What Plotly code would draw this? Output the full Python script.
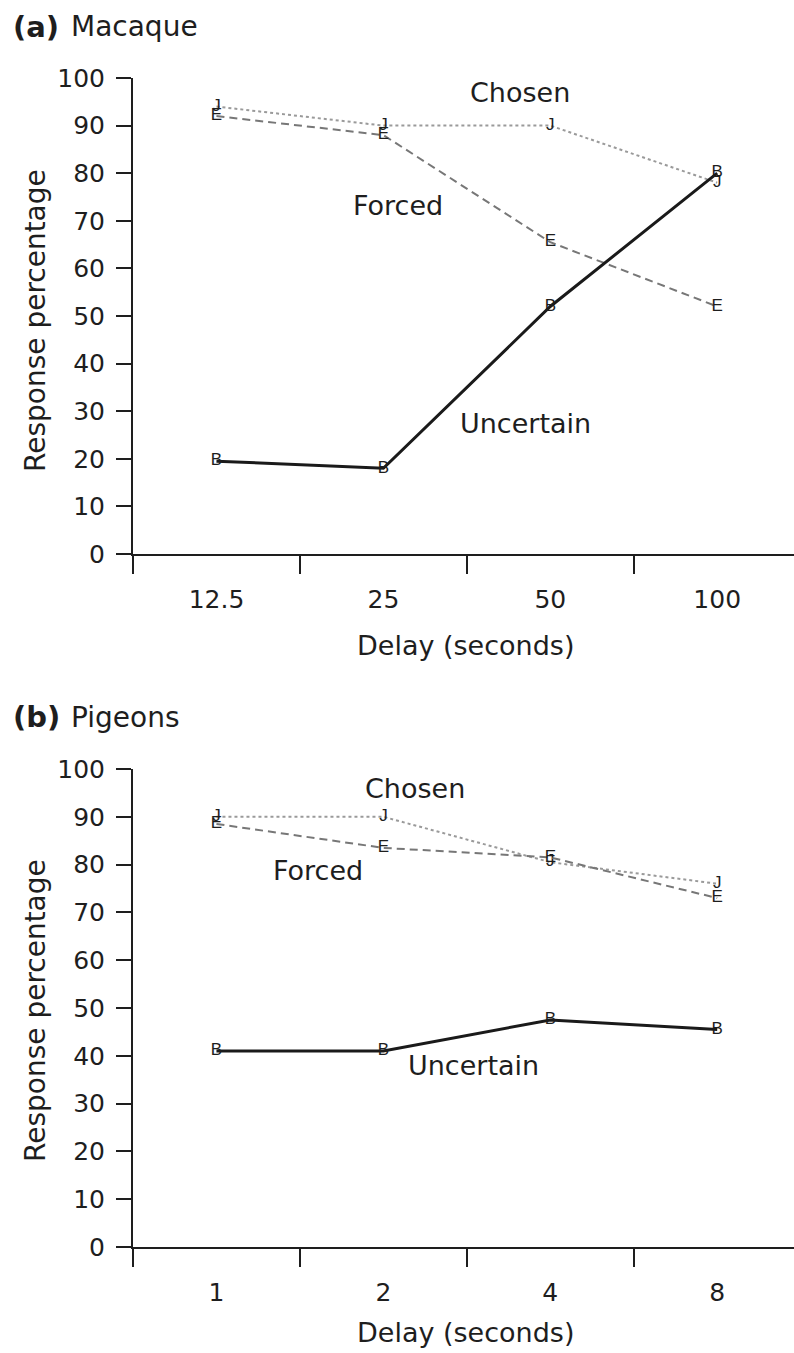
import plotly.graph_objects as go

# ---- data ----
delays_a = ["12.5", "25", "50", "100"]
chosen_a = [94, 90, 90, 78]
forced_a = [92, 88, 65.5, 52]
uncertain_a = [19.5, 18, 52, 80]

delays_b = ["1", "2", "4", "8"]
chosen_b = [90, 90, 80.5, 76]
forced_b = [88.5, 83.5, 81.5, 73]
uncertain_b = [41, 41, 47.5, 45.5]

series_names = ["Chosen", "Forced", "Uncertain"]
marker_letters = ["J", "E", "B"]

W, H = 794, 1353
FONT = "DejaVu Sans"
INK = "#1e1e1e"

styles = {
    "Chosen": dict(color="#9a9a9a", width=2, dash="dot"),
    "Forced": dict(color="#777777", width=2, dash="8px,5px"),
    "Uncertain": dict(color="#1a1a1a", width=3, dash="solid"),
}

fig = go.Figure()


def add_panel(delays, values_list, xa, ya):
    for name, vals, letter in zip(series_names, values_list, marker_letters):
        fig.add_trace(go.Scatter(
            x=delays, y=vals, mode="lines+text",
            text=[letter] * len(vals), textposition="middle center",
            textfont=dict(family="Liberation Sans", size=17, color=INK),
            line=styles[name], xaxis=xa, yaxis=ya, showlegend=False,
            cliponaxis=False, hoverinfo="skip",
        ))


add_panel(delays_a, [chosen_a, forced_a, uncertain_a], "x", "y")
add_panel(delays_b, [chosen_b, forced_b, uncertain_b], "x2", "y2")


def py(p):
    return 1 - p / H


xcommon = dict(
    domain=[133 / W, 1], type="category", range=[-0.5, 3.46],
    tickson="boundaries", ticks="outside", ticklen=18, tickwidth=2,
    tickcolor=INK, showline=True, linewidth=2, linecolor=INK,
    showgrid=False, zeroline=False, automargin=False,
    tickfont=dict(family=FONT, size=25, color=INK), ticklabelstandoff=22,
    fixedrange=True,
)
ycommon = dict(
    range=[0, 100], dtick=10, ticks="outside", ticklen=15, tickwidth=2,
    tickcolor=INK, showline=True, linewidth=2, linecolor=INK,
    showgrid=False, zeroline=False, automargin=False,
    tickfont=dict(family=FONT, size=25, color=INK), ticklabelstandoff=6,
    fixedrange=True,
)

fig.update_layout(
    template="none",
    width=W, height=H, margin=dict(l=0, r=0, t=0, b=0, autoexpand=False),
    paper_bgcolor="white", plot_bgcolor="white",
    xaxis=dict(xcommon, anchor="y"),
    yaxis=dict(ycommon, anchor="x", domain=[py(554), py(78)]),
    xaxis2=dict(xcommon, anchor="y2"),
    yaxis2=dict(ycommon, anchor="x2", domain=[py(1247), py(769)]),
)

ann = []
txt = dict(family=FONT, size=27, color=INK)

# panel titles
for lab, name, ycen in [("(a)", "Macaque", 27), ("(b)", "Pigeons", 717)]:
    ann.append(dict(xref="paper", yref="paper", x=11 / W, y=py(ycen),
                    xanchor="left", yanchor="middle", showarrow=False,
                    text="<b>%s</b>" % lab, font=dict(family=FONT, size=29, color=INK)))
    ann.append(dict(xref="paper", yref="paper", x=69 / W, y=py(ycen),
                    xanchor="left", yanchor="middle", showarrow=False,
                    text=name, font=dict(family=FONT, size=28, color=INK)))

# axis titles
for yc_title, xt_y in [(321, 645), (1011, 1332)]:
    ann.append(dict(xref="paper", yref="paper", x=35 / W, y=py(yc_title),
                    xanchor="center", yanchor="middle", showarrow=False,
                    textangle=-90, text="Response percentage", font=dict(family=FONT, size=28, color=INK)))
    ann.append(dict(xref="paper", yref="paper", x=466 / W, y=py(xt_y),
                    xanchor="center", yanchor="middle", showarrow=False,
                    text="Delay (seconds)", font=dict(family=FONT, size=27, color=INK)))

# series labels
labels_a = [("Chosen", 1.82, 97), ("Forced", 1.09, 73.3), ("Uncertain", 1.85, 27.5)]
labels_b = [("Chosen", 1.19, 96), ("Forced", 0.61, 78.7), ("Uncertain", 1.54, 37.9)]
for (t, x, y) in labels_a:
    ann.append(dict(xref="x", yref="y", x=x, y=y, text=t, showarrow=False,
                    xanchor="center", yanchor="middle", font=txt))
for (t, x, y) in labels_b:
    ann.append(dict(xref="x2", yref="y2", x=x, y=y, text=t, showarrow=False,
                    xanchor="center", yanchor="middle", font=txt))

fig.update_layout(annotations=ann)
fig.write_html("out.html")
